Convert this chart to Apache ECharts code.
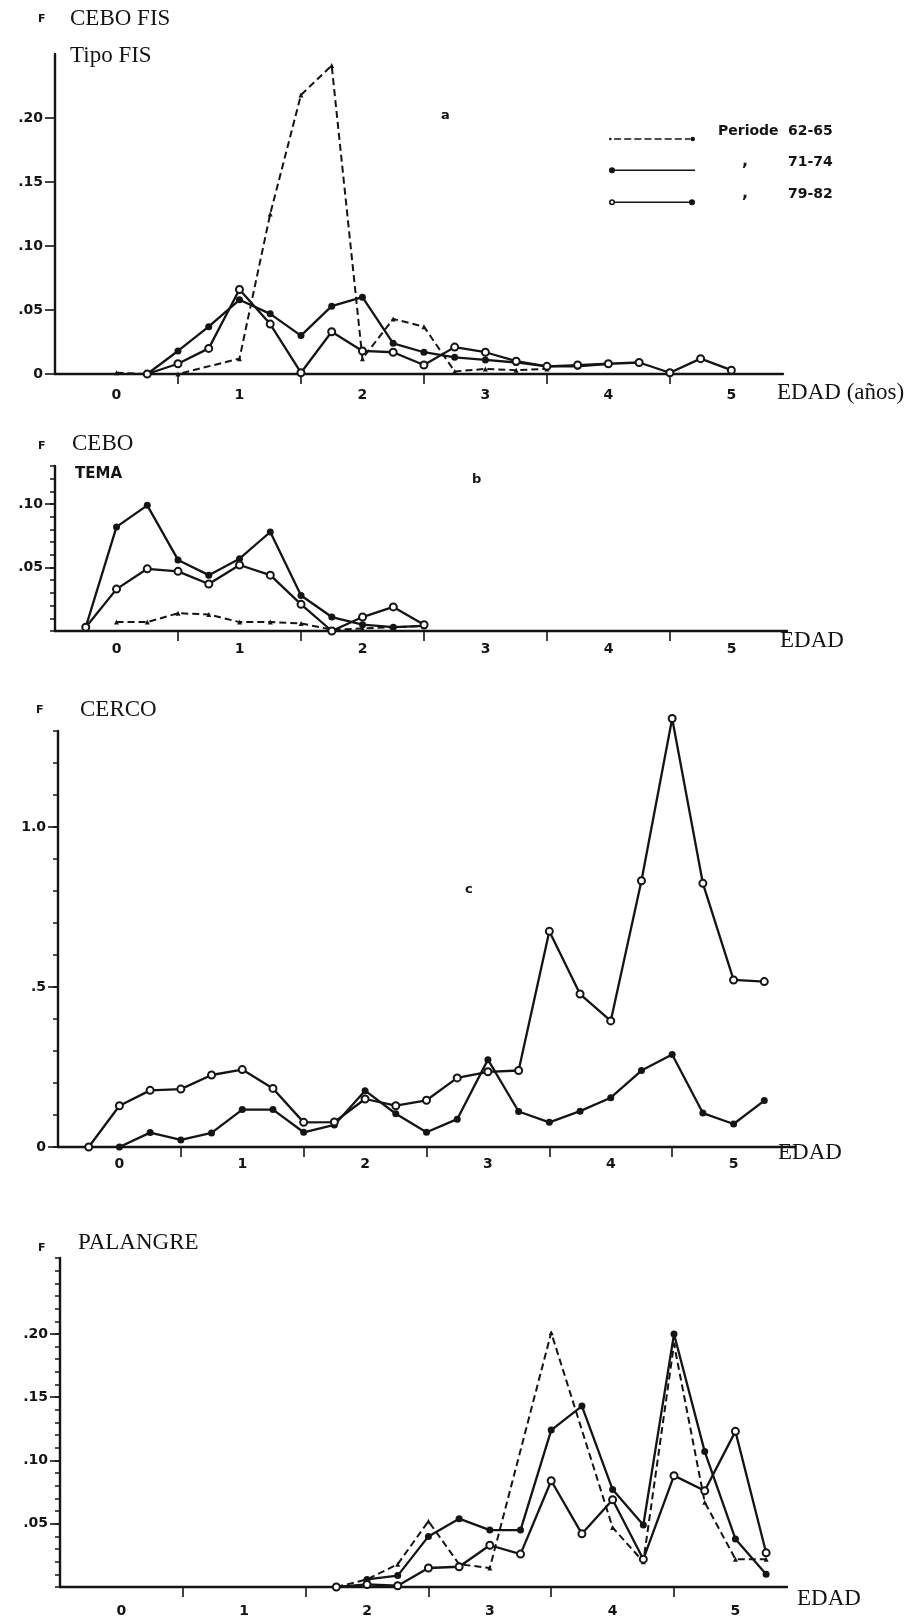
<!DOCTYPE html>
<html>
<head>
<meta charset="utf-8">
<script src="https://cdn.jsdelivr.net/npm/echarts@6/dist/echarts.min.js"></script>
<style>
  html, body { margin: 0; padding: 0; background: #fff; }
  #chart { width: 914px; height: 1624px; }
</style>
</head>
<body>
<div id="chart"></div>
<script>
// Fishing mortality F by age (years) for three periods, one panel per gear.
const periodNames = ['62-65', '71-74', '79-82'];
const ageLabelValues = [0, 1, 2, 3, 4, 5];
const ageTickValues = [0.5, 1.5, 2.5, 3.5, 4.5];

// a) CEBO FIS — Tipo FIS
const fisAge6265 = [0, 0.25, 0.5, 1.0, 1.25, 1.5, 1.75, 2.0, 2.25, 2.5, 2.75, 3.0, 3.25, 3.5];
const fisF6265   = [0.001, 0.0, 0.0, 0.012, 0.125, 0.218, 0.241, 0.012, 0.043, 0.037, 0.002, 0.004, 0.003, 0.004];
const fisAge7174 = [0.25, 0.5, 0.75, 1.0, 1.25, 1.5, 1.75, 2.0, 2.25, 2.5, 2.75, 3.0, 3.25, 3.5, 3.75, 4.0];
const fisF7174   = [0.0, 0.018, 0.037, 0.058, 0.047, 0.030, 0.053, 0.060, 0.024, 0.017, 0.013, 0.011, 0.009, 0.006, 0.006, 0.008];
const fisAge7982 = [0.25, 0.5, 0.75, 1.0, 1.25, 1.5, 1.75, 2.0, 2.25, 2.5, 2.75, 3.0, 3.25, 3.5, 3.75, 4.0, 4.25, 4.5, 4.75, 5.0];
const fisF7982   = [0.0, 0.008, 0.020, 0.066, 0.039, 0.001, 0.033, 0.018, 0.017, 0.007, 0.021, 0.017, 0.010, 0.006, 0.007, 0.008, 0.009, 0.001, 0.012, 0.003];

// b) CEBO — TEMA
const temaAge6265 = [0, 0.25, 0.5, 0.75, 1.0, 1.25, 1.5, 1.75, 2.0, 2.25, 2.5];
const temaF6265   = [0.007, 0.007, 0.014, 0.013, 0.007, 0.007, 0.006, 0.001, 0.002, 0.003, 0.004];
const temaAge7174 = [-0.25, 0, 0.25, 0.5, 0.75, 1.0, 1.25, 1.5, 1.75, 2.0, 2.25, 2.5];
const temaF7174   = [0.003, 0.082, 0.099, 0.056, 0.044, 0.057, 0.078, 0.028, 0.011, 0.005, 0.003, 0.004];
const temaAge7982 = [-0.25, 0, 0.25, 0.5, 0.75, 1.0, 1.25, 1.5, 1.75, 2.0, 2.25, 2.5];
const temaF7982   = [0.003, 0.033, 0.049, 0.047, 0.037, 0.052, 0.044, 0.021, 0.0, 0.011, 0.019, 0.005];

// c) CERCO
const cercoAge7174 = [0, 0.25, 0.5, 0.75, 1.0, 1.25, 1.5, 1.75, 2.0, 2.25, 2.5, 2.75, 3.0, 3.25, 3.5, 3.75, 4.0, 4.25, 4.5, 4.75, 5.0, 5.25];
const cercoF7174   = [0, 0.045, 0.022, 0.044, 0.117, 0.117, 0.046, 0.069, 0.176, 0.104, 0.046, 0.087, 0.273, 0.111, 0.077, 0.112, 0.154, 0.239, 0.289, 0.106, 0.072, 0.145];
const cercoAge7982 = [-0.25, 0, 0.25, 0.5, 0.75, 1.0, 1.25, 1.5, 1.75, 2.0, 2.25, 2.5, 2.75, 3.0, 3.25, 3.5, 3.75, 4.0, 4.25, 4.5, 4.75, 5.0, 5.25];
const cercoF7982   = [0, 0.129, 0.177, 0.181, 0.225, 0.242, 0.183, 0.077, 0.078, 0.150, 0.129, 0.146, 0.216, 0.235, 0.239, 0.674, 0.478, 0.394, 0.832, 1.339, 0.824, 0.522, 0.517];

// d) PALANGRE
const palAge6265 = [1.75, 2.0, 2.25, 2.5, 2.75, 3.0, 3.5, 4.0, 4.25, 4.5, 4.75, 5.0, 5.25];
const palF6265   = [0.0, 0.006, 0.018, 0.052, 0.018, 0.015, 0.201, 0.047, 0.020, 0.192, 0.067, 0.022, 0.022];
const palAge7174 = [2.0, 2.25, 2.5, 2.75, 3.0, 3.25, 3.5, 3.75, 4.0, 4.25, 4.5, 4.75, 5.0, 5.25];
const palF7174   = [0.006, 0.009, 0.040, 0.054, 0.045, 0.045, 0.124, 0.143, 0.077, 0.049, 0.200, 0.107, 0.038, 0.010];
const palAge7982 = [1.75, 2.0, 2.25, 2.5, 2.75, 3.0, 3.25, 3.5, 3.75, 4.0, 4.25, 4.5, 4.75, 5.0, 5.25];
const palF7982   = [0.0, 0.002, 0.001, 0.015, 0.016, 0.033, 0.026, 0.084, 0.042, 0.069, 0.022, 0.088, 0.076, 0.123, 0.027];

// y-axis labels per panel
const fisYLabels   = [0, 0.05, 0.10, 0.15, 0.20];
const temaYLabels  = [0.05, 0.10];
const cercoYLabels = [0, 0.5, 1.0];
const palYLabels   = [0.05, 0.10, 0.15, 0.20];

const INK = '#141414';
const NUM_FONT = 'DejaVu Sans';
const SERIF = 'Liberation Serif';

const zip = (xs, ys) => xs.map((x, i) => [x, ys[i]]);

// layout of the four panels
const panels = [
  { grid: { left: 55, top: 54,   width: 728, height: 320 }, xMax: 5.42, yMax: 0.25, minor: null, major: 0.05,
    yLabels: fisYLabels, xMargin: 14,
    data: [zip(fisAge6265, fisF6265), zip(fisAge7174, fisF7174), zip(fisAge7982, fisF7982)] },
  { grid: { left: 55, top: 466,  width: 732, height: 165 }, xMax: 5.45, yMax: 0.13, minor: 0.01, major: 0.05,
    yLabels: temaYLabels, xMargin: 11,
    data: [zip(temaAge6265, temaF6265), zip(temaAge7174, temaF7174), zip(temaAge7982, temaF7982)] },
  { grid: { left: 58, top: 731,  width: 737, height: 416 }, xMax: 5.5, yMax: 1.3, minor: 0.1, major: 0.5,
    yLabels: cercoYLabels, xMargin: 10,
    data: [null, zip(cercoAge7174, cercoF7174), zip(cercoAge7982, cercoF7982)] },
  { grid: { left: 60, top: 1258, width: 727, height: 329 }, xMax: 5.42, yMax: 0.26, minor: 0.01, major: 0.05,
    yLabels: palYLabels, xMargin: 17,
    data: [zip(palAge6265, palF6265), zip(palAge7174, palF7174), zip(palAge7982, palF7982)] }
];

function fmtY(v) {
  if (v === 0) return '0';
  if (v >= 1) return v.toFixed(1);
  if (v === 0.5) return '.5';
  return v.toFixed(2).replace(/^0/, '');
}

const grids = [], xAxes = [], yAxes = [], series = [];

panels.forEach((p, i) => {
  grids.push(Object.assign({ containLabel: false }, p.grid));
  xAxes.push({
    type: 'value', gridIndex: i, min: -0.5, max: p.xMax,
    axisLine: { show: true, onZero: false, lineStyle: { color: INK, width: 2.4 } },
    axisTick: { show: true, customValues: ageTickValues, length: 10, lineStyle: { color: INK, width: 1.6 } },
    axisLabel: { show: true, customValues: ageLabelValues, margin: p.xMargin,
      fontFamily: NUM_FONT, fontWeight: 'bold', fontSize: 14, color: INK },
    splitLine: { show: false }
  });
  // axis carrying the line and the small ticks
  yAxes.push({
    type: 'value', gridIndex: i, position: 'left', min: 0, max: p.yMax,
    interval: p.minor || p.major,
    axisLine: { show: true, onZero: false, lineStyle: { color: INK, width: 2.4 } },
    axisTick: { show: !!p.minor, length: 5, lineStyle: { color: INK, width: 1.5 } },
    axisLabel: { show: false },
    splitLine: { show: false }
  });
  // axis carrying the labelled ticks
  yAxes.push({
    type: 'value', gridIndex: i, position: 'left', min: 0, max: p.yMax,
    axisLine: { show: false, onZero: false },
    axisTick: { show: true, customValues: p.yLabels, length: 10, lineStyle: { color: INK, width: 1.6 } },
    axisLabel: { show: true, customValues: p.yLabels, margin: 12, formatter: fmtY,
      fontFamily: NUM_FONT, fontWeight: 'bold', fontSize: 14, color: INK },
    splitLine: { show: false }
  });

  p.data.forEach((d, k) => {
    if (!d) return;
    const base = {
      name: periodNames[k], type: 'line', data: d,
      xAxisIndex: i, yAxisIndex: 2 * i, clip: false, silent: true, animation: false,
      z: 3 + k
    };
    if (k === 0) {
      Object.assign(base, {
        symbol: 'triangle', symbolSize: 5,
        itemStyle: { color: INK },
        lineStyle: { color: INK, width: 2, type: [7, 4] }
      });
    } else if (k === 1) {
      Object.assign(base, {
        symbol: 'circle', symbolSize: 7,
        itemStyle: { color: INK },
        lineStyle: { color: INK, width: 2.3 }
      });
    } else {
      Object.assign(base, {
        symbol: 'emptyCircle', symbolSize: 7,
        itemStyle: { color: INK, borderWidth: 1.8 },
        lineStyle: { color: INK, width: 2.3 }
      });
    }
    series.push(base);
  });
});

// legend keys: dashed line, line with dot, line with ring and dot
const dashIcon = 'path://M0,4a1.3,1.3 0 1,0 2.6,0a1.3,1.3 0 1,0 -2.6,0z' +
  'M5,3.3h7v1.4h-7zM15,3.3h7v1.4h-7zM25,3.3h7v1.4h-7zM35,3.3h7v1.4h-7z' +
  'M45,3.3h7v1.4h-7zM55,3.3h7v1.4h-7zM65,3.3h7v1.4h-7zM75,3.3h6v1.4h-6z' +
  'M80.6,4a2.2,2.2 0 1,0 4.4,0a2.2,2.2 0 1,0 -4.4,0z';
const dotLineIcon = 'path://M0,4a3,3 0 1,0 6,0a3,3 0 1,0 -6,0zM6,3.3h79v1.4h-79z';
const ringLineIcon = 'path://M0,4a3,3 0 1,0 6,0a3,3 0 1,0 -6,0z' +
  'M1.6,4a1.4,1.4 0 1,1 2.8,0a1.4,1.4 0 1,1 -2.8,0z' +
  'M6,3.3h73v1.4h-73zM79,4a3,3 0 1,0 6,0a3,3 0 1,0 -6,0z';

function txt(text, x, y, font, extra) {
  return {
    type: 'text', x: x, y: y, silent: true,
    style: Object.assign({ text: text, font: font, fill: INK, align: 'left', verticalAlign: 'middle' }, extra || {})
  };
}
const titleFont = '23px "' + SERIF + '"';
const smallBold = 'bold 11px "' + NUM_FONT + '"';
const letterFont = 'bold 13px "' + NUM_FONT + '"';

const graphics = [
  txt('F', 38, 19, smallBold),
  txt('CEBO FIS', 70, 19, titleFont),
  txt('Tipo FIS', 70, 56, titleFont),
  txt('a', 441, 116, letterFont),
  txt('EDAD (años)', 777, 393, titleFont),

  txt('F', 38, 446, smallBold),
  txt('CEBO', 72, 444, titleFont),
  txt('TEMA', 75, 474, 'bold 15px "' + NUM_FONT + '"'),
  txt('b', 472, 480, letterFont),
  txt('EDAD', 780, 641, titleFont),

  txt('F', 36, 710, smallBold),
  txt('CERCO', 80, 710, titleFont),
  txt('c', 465, 890, letterFont),
  txt('EDAD', 778, 1153, titleFont),

  txt('F', 38, 1248, smallBold),
  txt('PALANGRE', 78, 1243, titleFont),
  txt('EDAD', 797, 1599, titleFont)
];

const option = {
  backgroundColor: '#ffffff',
  animation: false,
  grid: grids,
  xAxis: xAxes,
  yAxis: yAxes,
  series: series,
  legend: {
    show: true, orient: 'vertical', left: 604, top: 119,
    itemWidth: 86, itemHeight: 8, itemGap: 13, selectedMode: false,
    itemStyle: { color: INK, borderWidth: 0 },
    data: [
      { name: '62-65', icon: dashIcon },
      { name: '71-74', icon: dotLineIcon },
      { name: '79-82', icon: ringLineIcon }
    ],
    formatter: function (name) {
      return name === '62-65'
        ? '{s|}{p|Periode}{n|' + name + '}'
        : '{s|}{g|}{c|,}{n|' + name + '}';
    },
    textStyle: {
      color: INK, fontFamily: NUM_FONT, fontWeight: 'bold', fontSize: 14,
      padding: [0, 0, 16, 0],
      rich: {
        s: { width: 18 },
        g: { width: 24 },
        p: { width: 70, align: 'left', fontFamily: NUM_FONT, fontWeight: 'bold', fontSize: 14, color: INK },
        c: { width: 46, align: 'left', fontFamily: NUM_FONT, fontWeight: 'bold', fontSize: 16, color: INK },
        n: { fontFamily: NUM_FONT, fontWeight: 'bold', fontSize: 14, color: INK }
      }
    }
  },
  graphic: graphics
};

const chart = echarts.init(document.getElementById('chart'), null, { renderer: 'canvas', width: 914, height: 1624 });
chart.setOption(option);
</script>
</body>
</html>
